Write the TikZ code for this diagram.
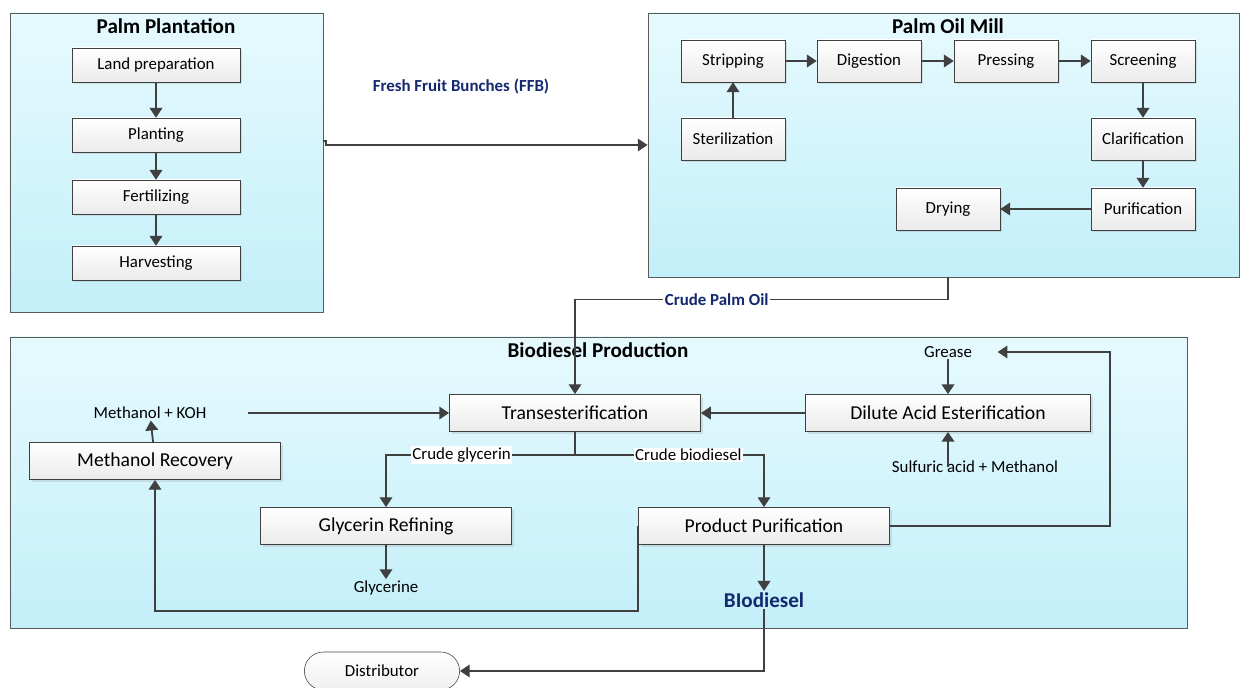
\documentclass[tikz,border=0pt]{standalone}
\usepackage{fontspec}
\setmainfont{Carlito}
\usepackage{xcolor}
\usepackage{tikz}
\usetikzlibrary{
  arrows.meta,
  positioning,
  shapes.misc,
  shadows,
  calc
}
\definecolor{celesteclaro}{HTML}{E6FAFE}
\definecolor{celesteosc}{HTML}{C3EFF9}
\definecolor{grisborde}{HTML}{5A5A5A}
\definecolor{grisflecha}{HTML}{404040}
\definecolor{azultexto}{RGB}{20, 40, 110}

\begin{document}
\begin{tikzpicture}[
  x=0.025cm, y=-0.025cm,
  zona/.style  = {
    rectangle, draw=grisborde, top color=celesteclaro, bottom color=celesteosc,
    inner sep=0pt
  },
  caja/.style  = {
    rectangle, draw=grisflecha, top color=white, bottom color=gray!16,
    minimum width=2.6cm, minimum height=1.05cm, inner sep=1pt,
    font=\fontsize{12}{14}\selectfont,
    drop shadow={shadow xshift=0.06cm, shadow yshift=-0.06cm, opacity=0.2}
  },
  cajal/.style = {caja, minimum width=4.2cm, minimum height=0.85cm},
  cajab/.style = {caja, minimum width=6.28cm, minimum height=0.93cm,
    font=\fontsize{14}{16}\selectfont},
  titulo/.style = {font=\fontsize{15}{17}\selectfont\bfseries, inner sep=1pt},
  etiq/.style  = {font=\fontsize{12}{14}\selectfont, inner sep=1pt},
  etiqz/.style = {font=\fontsize{12}{14}\selectfont\bfseries, text=azultexto, inner sep=1pt},
  flecha/.style = {-{Triangle[length=7pt, width=9pt]}, line width=1.3pt, draw=grisflecha},
  linea/.style  = {-{Triangle[length=7pt, width=9pt]}, line width=1pt, draw=grisflecha}
]
\useasboundingbox (0,0) rectangle (1240,688);

% Contenedores
\node[zona, minimum width=7.825cm, minimum height=7.475cm]  (plant) at (166.5,162.5) {};
\node[zona, minimum width=14.775cm, minimum height=6.6cm]   (mill)  at (943.5,145) {};
\node[zona, minimum width=29.425cm, minimum height=7.275cm] (bio)   at (598.5,482.5) {};
\node[titulo] (tplant) at (166,26)  {Palm Plantation};
\node[titulo] (tmill)  at (948,26)  {Palm Oil Mill};
\node[titulo] (tbio)   at (598,350) {Biodiesel Production};

% Plantacion
\node[cajal] (land)  at (156,65)  {Land preparation};
\node[cajal] (plan)  at (156,135) {Planting};
\node[cajal] (fert)  at (156,197) {Fertilizing};
\node[cajal] (harv)  at (156,263) {Harvesting};
\draw[flecha] (land) -- (plan);
\draw[flecha] (plan) -- (fert);
\draw[flecha] (fert) -- (harv);

% Molino
\node[caja] (strip)  at (733,61)   {Stripping};
\node[caja] (dig)    at (869,61)   {Digestion};
\node[caja] (press)  at (1006,61)  {Pressing};
\node[caja] (screen) at (1143,61)  {Screening};
\node[caja] (steril) at (733,139)  {Sterilization};
\node[caja] (clar)   at (1143,139) {Clarification};
\node[caja] (purif)  at (1143,209) {Purification};
\node[caja] (dry)    at (948,209)  {Drying};
\draw[flecha] (steril) -- (strip);
\draw[flecha] (strip)  -- (dig);
\draw[flecha] (dig)    -- (press);
\draw[flecha] (press)  -- (screen);
\draw[flecha] (screen) -- (clar);
\draw[flecha] (clar)   -- (purif);
\draw[flecha] (purif)  -- (dry);

% FFB
\coordinate (ffb) at (323,141);
\node[etiqz] (tffb) at (461,87) {Fresh Fruit Bunches (FFB)};
\draw[linea] (ffb) -- ++(3,0) |- (mill.west);

% Biodiesel
\node[cajab] (trans)  at (575,413) {Transesterification};
\node[cajab, minimum width=7.13cm] (dil) at (948,413) {Dilute Acid Esterification};
\node[cajab] (mrec)   at (155,461) {Methanol Recovery};
\node[cajab] (glyref) at (386,526) {Glycerin Refining};
\node[cajab] (ppur)   at (764,526) {Product Purification};
\node[etiq]  (mkoh)   at (150,413) {Methanol + KOH};
\node[etiq]  (grease) at (948,352) {Grease};
\node[etiq]  (sulf)   at (975,467) {Sulfuric acid + Methanol};
\node[etiq]  (glyc)   at (386,588) {Glycerine};
\node[etiqz, font=\fontsize{15}{17}\selectfont\bfseries] (biod) at (764,600) {BIodiesel};
\node[rounded rectangle, draw=grisflecha, top color=white, bottom color=gray!12,
  minimum width=3.95cm, minimum height=0.95cm, etiq] (dist) at (382,671) {Distributor};

\draw[linea] (dry |- mill.south) -- ++(0,22) -| node[pos=0.31, etiqz, fill=white] {Crude Palm Oil} (trans.north);
\draw[flecha] ([xshift=1cm]mkoh.east) -- (trans);
\draw[flecha] (dil) -- (trans);
\draw[flecha] (grease) -- (dil);
\draw[flecha] (dil.south |- sulf.center) -- (dil.south);
\draw[linea] (trans.south) -- ++(0,23) -| node[pos=0.3, etiq, fill=white] {Crude glycerin} (glyref.north);
\draw[linea] (trans.south) -- ++(0,23) -| node[pos=0.3, etiq, fill=white] {Crude biodiesel} (ppur.north);
\draw[flecha] (glyref) -- (glyc);
\draw[flecha] (ppur) -- (biod);
\draw[flecha] (mrec) -- (mkoh);
\draw[linea] (ppur.east) -- ++(220,0) |- ([xshift=0.6cm]grease.east);
\draw[linea] (ppur.west) -- ++(0,85) -| (mrec.south);
\draw[linea] (biod.south) |- (dist.east);

\end{tikzpicture}
\end{document}
